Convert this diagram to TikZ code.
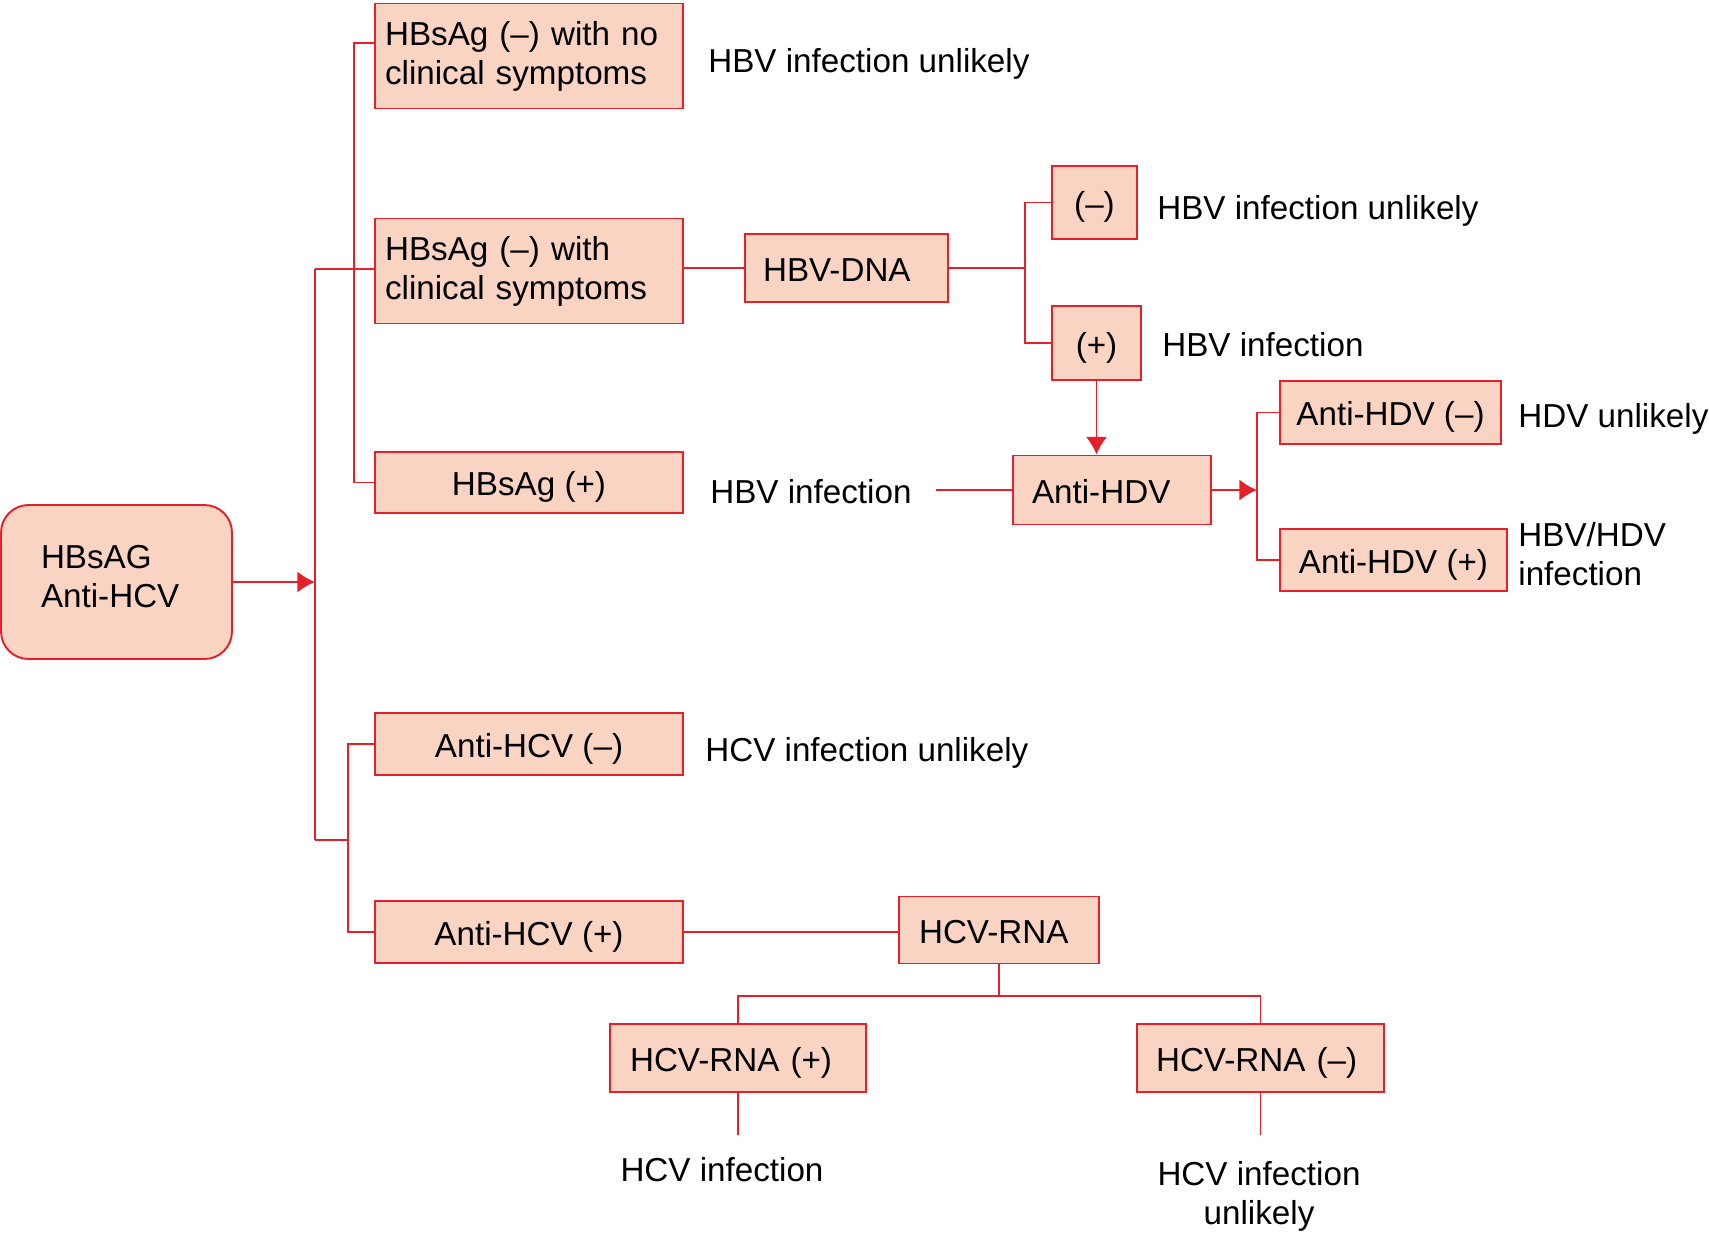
\documentclass[tikz,border=0pt]{standalone}
\usepackage{fontspec}
\setmainfont{Liberation Sans}
\usepackage{xcolor}
\usetikzlibrary{arrows.meta,positioning}
\definecolor{hbred}{RGB}{230,32,42}
\definecolor{hbfill}{RGB}{249,212,194}
\tikzset{
  hbbox/.style={draw=hbred,fill=hbfill,line width=1.1pt,inner sep=0pt},
  hbone/.style={hbbox,text height=18pt,text depth=2.9pt},
  hblabel/.style={inner sep=0pt,anchor=west,align=left},
  hbline/.style={draw=hbred,line width=1.1pt}
}

\begin{document}
\begin{tikzpicture}[>={Latex[length=10pt,width=12pt]},x=0.02cm,y=-0.02cm,
  every node/.style={font=\fontsize{18.9pt}{22.1pt}\selectfont}]
\useasboundingbox (0,0) rectangle (1709,1232);

\node[hbbox,rounded corners=0.55cm,minimum width=4.62cm,minimum height=3.08cm,text width=3.02cm,text depth=28.3pt,align=left] (start) at (116.5,582) {HBsAG\\Anti-HCV};

\node[hbbox,minimum width=6.16cm,minimum height=2.1cm,text width=5.76cm,align=left] (hbnosym) at (529,56) {HBsAg (--) with no\\clinical symptoms};
\node[hbbox,minimum width=6.16cm,minimum height=2.1cm,text width=5.76cm,align=left] (hbsym) at (529,271) {HBsAg (--) with\\clinical symptoms};
\node[hbone,minimum width=6.16cm,minimum height=1.22cm] (hbpos) at (529,482.5) {HBsAg (+)};
\node[hbone,minimum width=4.06cm,minimum height=1.36cm,text width=3.34cm,align=left] (hbvdna) at (846.5,268) {HBV-DNA};
\node[hbone,minimum width=1.7cm,minimum height=1.46cm] (dnaneg) at (1094.5,202.5) {(--)};
\node[hbone,minimum width=1.78cm,minimum height=1.48cm] (dnapos) at (1096.5,343) {(+)};
\node[hbone,minimum width=3.96cm,minimum height=1.38cm,text width=3.2cm,align=left] (antihdv) at (1112,490) {Anti-HDV};
\node[hbone,minimum width=4.42cm,minimum height=1.26cm] (hdvneg) at (1390.5,412.5) {Anti-HDV (--)};
\node[hbone,minimum width=4.54cm,minimum height=1.24cm] (hdvpos) at (1393.5,560) {Anti-HDV (+)};
\node[hbone,minimum width=6.16cm,minimum height=1.24cm] (hcvneg) at (529,744) {Anti-HCV (--)};
\node[hbone,minimum width=6.16cm,minimum height=1.24cm] (hcvpos) at (529,932) {Anti-HCV (+)};
\node[hbone,minimum width=4cm,minimum height=1.34cm,text width=3.2cm,align=left] (hcvrna) at (999,930) {HCV-RNA};
\node[hbone,minimum width=5.12cm,minimum height=1.36cm,text width=4.32cm,align=left] (rnapos) at (738,1058) {HCV-RNA (+)};
\node[hbone,minimum width=4.94cm,minimum height=1.36cm,text width=4.18cm,align=left] (rnaneg) at (1260.5,1058) {HCV-RNA (--)};

\node[hblabel] (nosymtxt) at (708,63.5) {HBV infection unlikely};
\node[hblabel] (dnanegtxt) at (1157,210.5) {HBV infection unlikely};
\node[hblabel] (dnapostxt) at (1162,345) {HBV infection};
\node[hblabel] (hbpostxt) at (710,492) {HBV infection};
\node[hblabel] (hdvnegtxt) at (1518,418.5) {HDV unlikely};
\node[hblabel] (hdvpostxt) at (1518,554) {HBV/HDV\\infection};
\node[hblabel] (hcvnegtxt) at (705,752.5) {HCV infection unlikely};
\node[inner sep=0pt] (rnapostxt) at (722,1170) {HCV infection};
\node[inner sep=0pt,align=center] (rnanegtxt) at (1259,1196) {HCV infection\\unlikely};

\coordinate (hbjoin) at (315,582);
\coordinate (hbtop) at (315,269);
\coordinate (hbbot) at (315,840);
\coordinate (hbsplit) at (354,269);
\coordinate (hcvsplit) at (348,840);
\coordinate (dnasplit) at (1025,268);
\coordinate (hdvsplit) at (1257,490);
\coordinate (rnasplit) at (999,996);
\coordinate (rnaposend) at (738,1135);
\coordinate (rnanegend) at (1260.5,1135);

\draw[hbline,->] (start) -- (hbjoin);
\draw[hbline] (hbtop) -- (hbbot);
\draw[hbline] (hbtop) -- (hbsplit);
\draw[hbline] ([yshift=0.26cm]hbnosym.west) -| (hbsplit) |- (hbpos.west);
\draw[hbline] (hbsplit) -- (hbsym.west |- hbsplit);
\draw[hbline] (hbbot) -- (hcvsplit);
\draw[hbline] (hcvneg.west) -| (hcvsplit) |- (hcvpos.west);

\draw[hbline] (hbsym.east |- hbvdna) -- (hbvdna);
\draw[hbline] (hbvdna) -- (dnasplit);
\draw[hbline] (dnaneg.west) -| (dnasplit) |- (dnapos.west);
\draw[hbline,->] (dnapos) -- (dnapos |- antihdv.north);
\draw[hbline,shorten <=0.48cm] (hbpostxt.east |- antihdv) -- (antihdv.west);
\draw[hbline,->] (antihdv) -- (hdvsplit);
\draw[hbline] (hdvneg.west) -| (hdvsplit) |- (hdvpos.west);

\draw[hbline] (hcvpos) -- (hcvpos -| hcvrna.west);
\draw[hbline] (hcvrna.south) -- (rnasplit);
\draw[hbline] (rnapos.north) |- (rnasplit) -| (rnaneg.north);
\draw[hbline] (rnapos.south) -- (rnaposend);
\draw[hbline] (rnaneg.south) -- (rnanegend);
\end{tikzpicture}
\end{document}
